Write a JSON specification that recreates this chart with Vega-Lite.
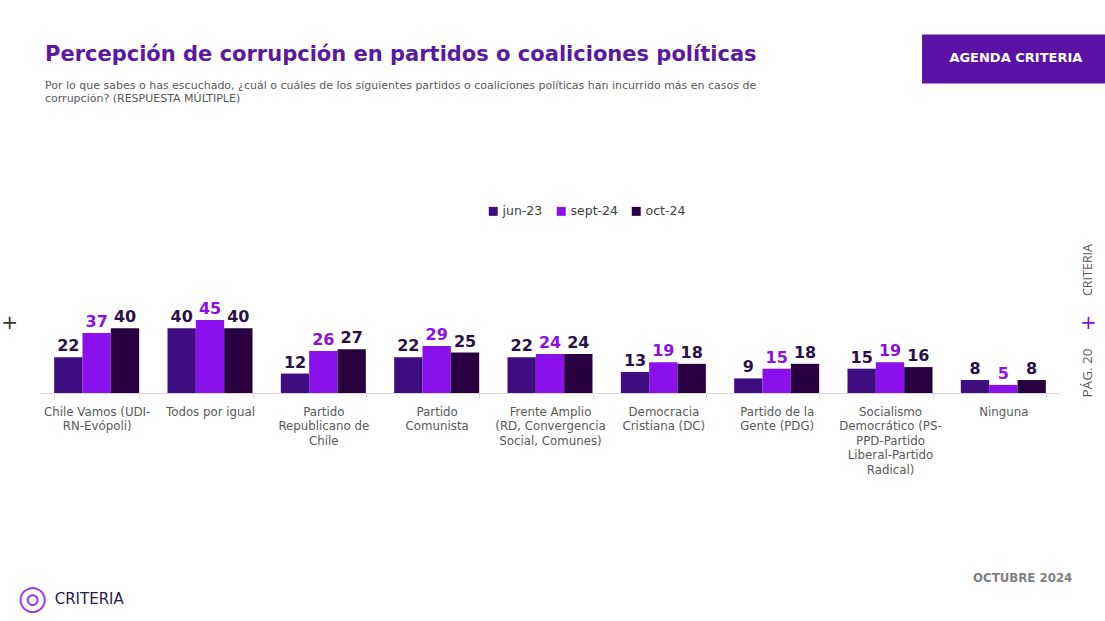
{
  "$schema": "https://vega.github.io/schema/vega-lite/v6.json",
  "description": "Percepción de corrupción en partidos o coaliciones políticas",
  "autosize": "none",
  "width": 1020,
  "height": 162,
  "padding": {"left": 40, "top": 231, "right": 45, "bottom": 228},
  "title": {
    "text": "Percepción de corrupción en partidos o coaliciones políticas",
    "subtitle": [
      "Por lo que sabes o has escuchado, ¿cuál o cuáles de los siguientes partidos o coaliciones políticas han incurrido más en casos  de",
      "corrupción?  (RESPUESTA MÚLTIPLE)"
    ],
    "anchor": "start",
    "frame": "group",
    "dx": 5,
    "offset": -70,
    "font": "DejaVu Sans",
    "fontSize": 21,
    "fontWeight": "bold",
    "color": "#5b1a9e",
    "subtitleFont": "DejaVu Sans",
    "subtitleFontSize": 11,
    "subtitleColor": "#595959",
    "subtitleLineHeight": 13.5,
    "subtitlePadding": 15
  },
  "datasets": {
    "corrupcion": [
      {"partido": "Chile Vamos (UDI-RN-Evópoli)", "periodo": "jun-23", "valor": 22},
      {"partido": "Chile Vamos (UDI-RN-Evópoli)", "periodo": "sept-24", "valor": 37},
      {"partido": "Chile Vamos (UDI-RN-Evópoli)", "periodo": "oct-24", "valor": 40},
      {"partido": "Todos por igual", "periodo": "jun-23", "valor": 40},
      {"partido": "Todos por igual", "periodo": "sept-24", "valor": 45},
      {"partido": "Todos por igual", "periodo": "oct-24", "valor": 40},
      {"partido": "Partido Republicano de Chile", "periodo": "jun-23", "valor": 12},
      {"partido": "Partido Republicano de Chile", "periodo": "sept-24", "valor": 26},
      {"partido": "Partido Republicano de Chile", "periodo": "oct-24", "valor": 27},
      {"partido": "Partido Comunista", "periodo": "jun-23", "valor": 22},
      {"partido": "Partido Comunista", "periodo": "sept-24", "valor": 29},
      {"partido": "Partido Comunista", "periodo": "oct-24", "valor": 25},
      {"partido": "Frente Amplio (RD, Convergencia Social, Comunes)", "periodo": "jun-23", "valor": 22},
      {"partido": "Frente Amplio (RD, Convergencia Social, Comunes)", "periodo": "sept-24", "valor": 24},
      {"partido": "Frente Amplio (RD, Convergencia Social, Comunes)", "periodo": "oct-24", "valor": 24},
      {"partido": "Democracia Cristiana (DC)", "periodo": "jun-23", "valor": 13},
      {"partido": "Democracia Cristiana (DC)", "periodo": "sept-24", "valor": 19},
      {"partido": "Democracia Cristiana (DC)", "periodo": "oct-24", "valor": 18},
      {"partido": "Partido de la Gente (PDG)", "periodo": "jun-23", "valor": 9},
      {"partido": "Partido de la Gente (PDG)", "periodo": "sept-24", "valor": 15},
      {"partido": "Partido de la Gente (PDG)", "periodo": "oct-24", "valor": 18},
      {"partido": "Socialismo Democrático (PS-PPD-Partido Liberal-Partido Radical)", "periodo": "jun-23", "valor": 15},
      {"partido": "Socialismo Democrático (PS-PPD-Partido Liberal-Partido Radical)", "periodo": "sept-24", "valor": 19},
      {"partido": "Socialismo Democrático (PS-PPD-Partido Liberal-Partido Radical)", "periodo": "oct-24", "valor": 16},
      {"partido": "Ninguna", "periodo": "jun-23", "valor": 8},
      {"partido": "Ninguna", "periodo": "sept-24", "valor": 5},
      {"partido": "Ninguna", "periodo": "oct-24", "valor": 8}
    ]
  },
  "data": {"name": "corrupcion"},
  "layer": [
    {
      "encoding": {
        "x": {
          "field": "partido",
          "type": "nominal",
          "sort": null,
          "scale": {"paddingInner": 0.25, "paddingOuter": 0.125},
          "axis": {
            "title": null,
            "labelAngle": 0,
            "labelFont": "DejaVu Sans",
            "labelFontSize": 11.8,
            "labelColor": "#595959",
            "labelPadding": 8,
            "labelLineHeight": 14.5,
            "labelBaseline": "top",
            "labelLimit": 200,
            "labelOverlap": false,
            "domainColor": "#d9d9d9",
            "tickColor": "#d9d9d9",
            "tickSize": 5,
            "tickBand": "extent",
            "labelExpr": "datum.label == 'Chile Vamos (UDI-RN-Evópoli)' ? ['Chile Vamos (UDI-', 'RN-Evópoli)'] : datum.label == 'Partido Republicano de Chile' ? ['Partido', 'Republicano de', 'Chile'] : datum.label == 'Partido Comunista' ? ['Partido', 'Comunista'] : datum.label == 'Frente Amplio (RD, Convergencia Social, Comunes)' ? ['Frente Amplio', '(RD, Convergencia', 'Social, Comunes)'] : datum.label == 'Democracia Cristiana (DC)' ? ['Democracia', 'Cristiana (DC)'] : datum.label == 'Partido de la Gente (PDG)' ? ['Partido de la', 'Gente (PDG)'] : datum.label == 'Socialismo Democrático (PS-PPD-Partido Liberal-Partido Radical)' ? ['Socialismo', 'Democrático (PS-', 'PPD-Partido', 'Liberal-Partido', 'Radical)'] : datum.label"
          }
        },
        "xOffset": {
          "field": "periodo",
          "type": "nominal",
          "sort": ["jun-23", "sept-24", "oct-24"],
          "scale": {"paddingInner": 0, "paddingOuter": 0}
        },
        "y": {
          "field": "valor",
          "type": "quantitative",
          "scale": {"domain": [0, 100], "nice": false, "zero": true},
          "axis": null
        }
      },
      "layer": [
        {
          "mark": {"type": "bar"},
          "encoding": {
            "color": {
              "field": "periodo",
              "type": "nominal",
              "sort": ["jun-23", "sept-24", "oct-24"],
              "scale": {
                "domain": ["jun-23", "sept-24", "oct-24"],
                "range": ["#3e0e80", "#8a10ec", "#28003f"]
              },
              "legend": {
                "title": null,
                "orient": "none",
                "legendX": 447,
                "legendY": -26,
                "direction": "horizontal",
                "symbolType": "square",
                "symbolSize": 80,
                "symbolStrokeWidth": 0,
                "labelFont": "DejaVu Sans",
                "labelFontSize": 12.5,
                "labelColor": "#404040",
                "labelOffset": 3,
                "columnPadding": 12
              }
            }
          }
        },
        {
          "mark": {
            "type": "text",
            "baseline": "alphabetic",
            "dy": -6,
            "font": "DejaVu Sans",
            "fontSize": 16,
            "fontWeight": "bold"
          },
          "encoding": {
            "text": {"field": "valor", "type": "quantitative"},
            "color": {
              "condition": {"test": "datum.periodo == 'sept-24'", "value": "#8a10e6"},
              "value": "#2a1245"
            }
          }
        }
      ]
    },
    {
      "data": {"values": [{}]},
      "mark": {"type": "rect", "color": "#5a12a5"},
      "encoding": {
        "x": {"datum": "Ninguna", "bandPosition": -0.456},
        "x2": {"datum": "Ninguna", "bandPosition": 1.696},
        "y": {"datum": 191.1},
        "y2": {"datum": 221.3}
      }
    },
    {
      "data": {"values": [{}]},
      "mark": {
        "type": "text",
        "text": "AGENDA CRITERIA",
        "font": "DejaVu Sans",
        "fontSize": 13,
        "fontWeight": "bold",
        "color": "white",
        "baseline": "middle",
        "dx": 12.5
      },
      "encoding": {
        "x": {"datum": "Ninguna"},
        "y": {"datum": 206.5}
      }
    },
    {
      "data": {"values": [{}]},
      "mark": {
        "type": "text",
        "text": "+",
        "font": "DejaVu Sans",
        "fontSize": 20,
        "color": "#333333",
        "baseline": "middle",
        "dx": -87
      },
      "encoding": {
        "x": {"datum": "Chile Vamos (UDI-RN-Evópoli)"},
        "y": {"datum": 43.2}
      }
    },
    {
      "data": {"values": [{}]},
      "mark": {
        "type": "text",
        "text": "+",
        "font": "DejaVu Sans",
        "fontSize": 20,
        "color": "#8a10e6",
        "baseline": "middle",
        "dx": 85
      },
      "encoding": {
        "x": {"datum": "Ninguna"},
        "y": {"datum": 43.2}
      }
    },
    {
      "data": {"values": [{}]},
      "mark": {
        "type": "text",
        "text": "PÁG. 20",
        "font": "Open Sans",
        "fontSize": 13.5,
        "color": "#595959",
        "angle": 270,
        "baseline": "middle",
        "align": "center",
        "dx": -50,
        "dy": 85
      },
      "encoding": {
        "x": {"datum": "Ninguna"},
        "y": {"datum": 43.2}
      }
    },
    {
      "data": {"values": [{}]},
      "mark": {
        "type": "text",
        "text": "CRITERIA",
        "font": "Open Sans",
        "fontSize": 12.5,
        "color": "#595959",
        "angle": 270,
        "baseline": "middle",
        "align": "center",
        "dx": 53,
        "dy": 85
      },
      "encoding": {
        "x": {"datum": "Ninguna"},
        "y": {"datum": 43.2}
      }
    },
    {
      "data": {"values": [{}]},
      "mark": {
        "type": "text",
        "text": "OCTUBRE 2024",
        "font": "DejaVu Sans",
        "fontSize": 11.8,
        "fontWeight": "bold",
        "color": "#7f7f7f",
        "align": "right",
        "baseline": "middle",
        "dx": 69
      },
      "encoding": {
        "x": {"datum": "Ninguna"},
        "y": {"datum": -114}
      }
    },
    {
      "data": {"values": [{}]},
      "mark": {
        "type": "text",
        "text": "◎",
        "font": "DejaVu Sans",
        "fontSize": 34,
        "color": "#9b3fe0",
        "align": "center",
        "baseline": "middle",
        "dx": -64
      },
      "encoding": {
        "x": {"datum": "Chile Vamos (UDI-RN-Evópoli)"},
        "y": {"datum": -127}
      }
    },
    {
      "data": {"values": [{}]},
      "mark": {
        "type": "text",
        "text": "CRITERIA",
        "font": "DejaVu Sans",
        "fontSize": 15,
        "color": "#2a1a4a",
        "align": "left",
        "baseline": "middle",
        "dx": -42
      },
      "encoding": {
        "x": {"datum": "Chile Vamos (UDI-RN-Evópoli)"},
        "y": {"datum": -127}
      }
    }
  ],
  "config": {
    "view": {"stroke": "transparent"},
    "font": "Open Sans"
  }
}
